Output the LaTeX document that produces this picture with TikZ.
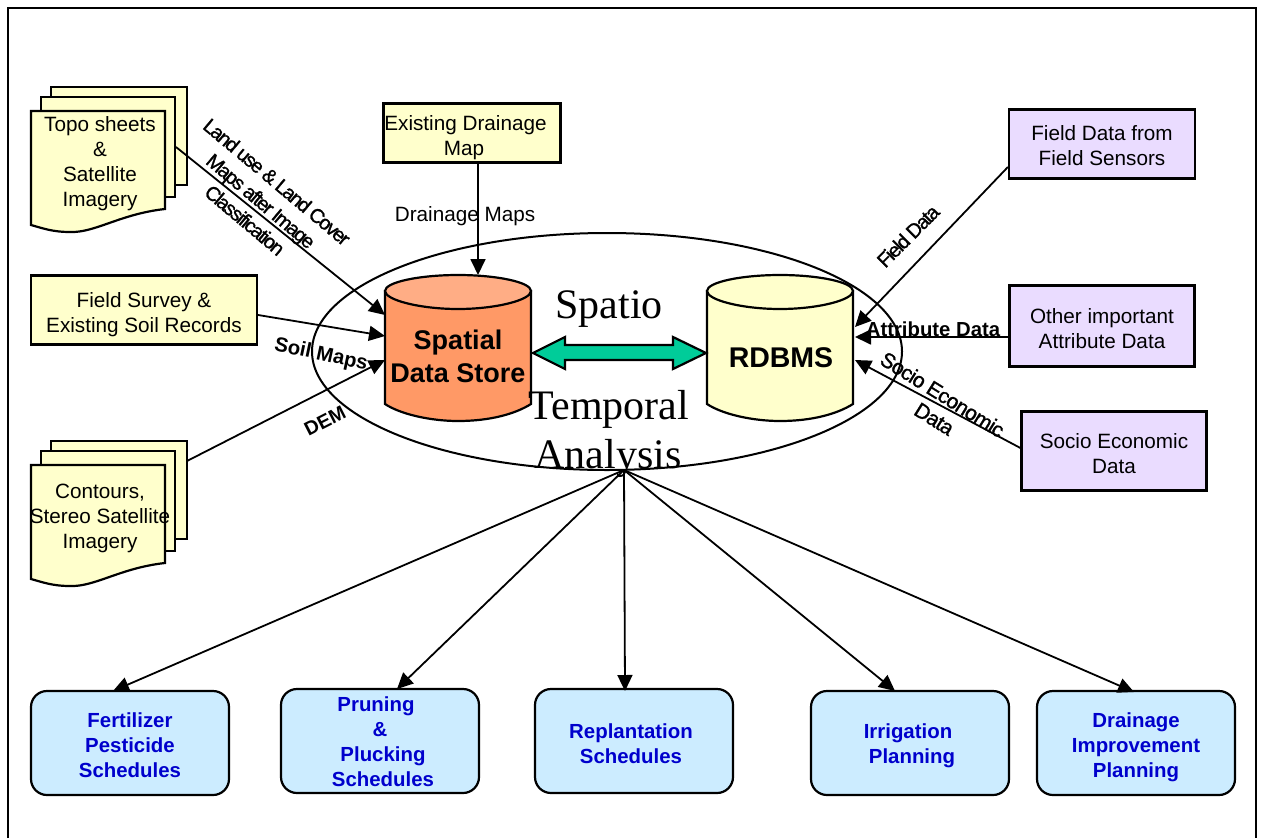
\documentclass[tikz,border=0pt]{standalone}
\usepackage{fontspec}
\setmainfont{Liberation Sans}
\newfontfamily\serifface{Liberation Serif}
\newfontfamily\tightface[LetterSpace=-3.5,FakeBold=1.2]{Liberation Sans}
\newfontfamily\tighterface[LetterSpace=-8,FakeBold=1.2]{Liberation Sans}
\usetikzlibrary{arrows.meta,calc,shapes.geometric}
\definecolor{paleyellow}{HTML}{FFFFCC}
\definecolor{palelilac}{HTML}{EADCFF}
\definecolor{paleblue}{HTML}{CCECFF}
\definecolor{orangeside}{HTML}{FF9966}
\definecolor{orangetop}{HTML}{FFAD85}
\definecolor{seagreen}{HTML}{00CC99}
\definecolor{schedblue}{HTML}{0000CC}
\newcommand\lowr[1]{\rule{0pt}{#1pt}}
\tikzset{
  x=1pt,y=-1pt,
  line width=2pt,
  box/.style={draw=black,line width=2.2pt,align=center,inner sep=0pt,font=\fontsize{20.7}{25}\selectfont},
  yellowbox/.style={box,fill=paleyellow},
  lilacbox/.style={box,fill=palelilac},
  sched/.style={box,fill=paleblue,rounded corners=16pt,text=schedblue,font=\fontsize{20.4}{25}\bfseries\selectfont},
  conn/.style={draw=black,line width=1.8pt,-{Triangle[length=16pt,width=15pt]}},
  tag/.style={inner sep=0pt,align=center,font=\fontsize{20.7}{25}\selectfont},
  btag/.style={tag,font=\fontsize{20.3}{25}\bfseries\selectfont},
  ttag/.style={tag,font=\fontsize{21}{25}\tightface\selectfont},
  tttag/.style={tag,font=\fontsize{20}{25}\tighterface\selectfont},
  sheet/.style={draw=black,line width=2.2pt,fill=paleyellow},
  big/.style={inner sep=0pt,font=\fontsize{42}{49}\serifface\selectfont}
}
\begin{document}
\begin{tikzpicture}
\useasboundingbox (0,0) rectangle (1261,838);
\fill[white] (0,0) rectangle (1261,838);
\draw[line width=1.8pt] (8,838) -- (8,8) -- (1256,8) -- (1256,838);

% ellipse
\node[draw=black,line width=2pt,ellipse,minimum width=590pt,minimum height=237pt,inner sep=0pt] (oval) at (607,351.5) {};
\coordinate (ebot) at (624,470);

% document stack 1
\draw[sheet] (51,87) -- (187,87) -- (187,185) -- (51,185) -- cycle;
\draw[sheet] (41,97) -- (175,97) -- (175,197) -- (41,197) -- cycle;
\draw[sheet] (31,111) -- (165,111) -- (165,209) .. controls (120,214) and (95,233) .. (70,232) .. controls (52,232) and (42,228) .. (31,225) -- cycle;
\node[tag] (topo) at (100,164) {Topo sheets\\\&\\Satellite\\Imagery};
\coordinate (topoout) at (176,147);

% document stack 2
\draw[sheet] (51,441) -- (187,441) -- (187,539) -- (51,539) -- cycle;
\draw[sheet] (41,451) -- (175,451) -- (175,551) -- (41,551) -- cycle;
\draw[sheet] (31,465) -- (165,465) -- (165,563) .. controls (120,568) and (95,587) .. (70,586) .. controls (52,586) and (42,582) .. (31,579) -- cycle;
\node[tag] (contours) at (100,518) {Contours,\\Stereo Satellite\\Imagery};
\coordinate (contoursout) at (187,461);

% rectangular sources
\node[yellowbox,minimum width=226pt,minimum height=69pt] (survey) at (144,310) {\lowr{24}Field Survey \&\\Existing Soil Records};
\node[yellowbox,minimum width=177pt,minimum height=59pt] (drain) at (472,133) {\lowr{24}Existing Drainage\hspace*{13pt}\\Map\hspace*{16pt}};
\node[lilacbox,minimum width=186pt,minimum height=69pt] (sensor) at (1102,144) {\lowr{18}Field Data from\\Field Sensors};
\node[lilacbox,minimum width=185pt,minimum height=81pt] (other) at (1102,326) {\lowr{21}Other important\\Attribute Data};
\node[lilacbox,minimum width=185pt,minimum height=79pt] (socio) at (1114,451) {\lowr{20}Socio Economic\\Data};

% cylinders
\path[fill=orangeside,draw=black,line width=2.2pt] (385,291) -- (385,404) .. controls (400,414) and (430,421) .. (458,421) .. controls (490,421) and (515,414) .. (531,404) -- (531,291) -- cycle;
\path[fill=orangetop,draw=black,line width=2.2pt] (458,275) .. controls (420,275) and (385,282) .. (385,291) .. controls (385,300) and (420,309) .. (458,309) .. controls (496,309) and (531,300) .. (531,291) .. controls (531,282) and (496,275) .. (458,275) -- cycle;
\node[inner sep=0pt,align=center,font=\fontsize{27}{33}\bfseries\selectfont] (store) at (458,356) {Spatial\\Data Store};
\path[fill=paleyellow,draw=black,line width=2.2pt] (707,291) -- (707,404) .. controls (722,414) and (752,421) .. (780,421) .. controls (812,421) and (837,414) .. (853,404) -- (853,291) -- cycle;
\path[fill=paleyellow,draw=black,line width=2.2pt] (780,275) .. controls (742,275) and (707,282) .. (707,291) .. controls (707,300) and (742,309) .. (780,309) .. controls (818,309) and (853,300) .. (853,291) .. controls (853,282) and (818,275) .. (780,275) -- cycle;
\node[inner sep=0pt,font=\fontsize{28.5}{32}\bfseries\selectfont] (rdbms) at (781,358) {RDBMS};
\coordinate (storeA) at (385,315);
\coordinate (storeB) at (385,336);
\coordinate (storeC) at (385,360);
\coordinate (storeT) at (478,275);
\coordinate (rdbA) at (855,327);
\coordinate (rdbB) at (855,337);
\coordinate (rdbC) at (855,360);

% double arrow
\path[fill=seagreen,draw=black,line width=2.2pt] (533,353) -- (565,337) -- (565,345) -- (673,345) -- (673,337) -- (706,353) -- (673,369) -- (673,360) -- (565,360) -- (565,369) -- cycle;

% big labels
\node[big] (spatio) at (609,309) {Spatio};
\node[big] (temporal) at (609,409) {Temporal};
\node[big] (analysis) at (608,458) {Analysis};

% connectors in
\draw[conn] (topoout) -- (storeA);
\draw[conn] (survey.east |- 0,315) -- (storeB);
\draw[conn] (contoursout) -- (storeC);
\draw[conn] (drain.south -| storeT) -- (storeT);
\draw[conn] (sensor.west |- 0,167) -- (rdbA);
\draw[conn] (other.west |- 0,337) -- (rdbB);
\draw[conn] (socio.west |- 0,448) -- (rdbC);

% connector labels
\node[tttag,rotate=-40] (landuse) at (261,201) {Land use \& Land Cover\\Maps after Image\\Classification};
\node[tag] (dm) at (465,216) {Drainage Maps};
\node[btag,rotate=-12] (soil) at (321,355) {Soil Maps};
\node[btag,rotate=27,font=\fontsize{19.5}{25}\bfseries\selectfont] (dem) at (325,421) {DEM};
\node[tttag,rotate=45] (fd) at (908,236) {Field Data};
\node[btag] (attr) at (933,329) {Attribute Data};
\node[ttag,rotate=-32] (sed) at (936,405) {Socio Economic\\\hspace*{12pt}Data};

% schedules
\node[sched,minimum width=198pt,minimum height=104pt] (s1) at (130,743) {\lowr{20}Fertilizer\\Pesticide\\Schedules};
\node[sched,minimum width=198pt,minimum height=104pt] (s2) at (380,741) {\lowr{17}Pruning\hspace*{8pt}\\\&\hspace*{4pt}\\\hspace*{6pt}Plucking\\\hspace*{6pt}Schedules};
\node[sched,minimum width=198pt,minimum height=104pt] (s3) at (634,741) {\lowr{20}Replantation\hspace*{6pt}\\Schedules\hspace*{6pt}};
\node[sched,minimum width=198pt,minimum height=104pt] (s4) at (910,743) {\lowr{20}Irrigation\hspace*{4pt}\\\hspace*{4pt}Planning};
\node[sched,minimum width=198pt,minimum height=104pt] (s5) at (1136,743) {\lowr{24}Drainage\\Improvement\\Planning};
\draw[conn] (ebot) -- (113,691);
\draw[conn] (ebot) -- (397,689);
\draw[conn] (ebot) -- (625,691);
\draw[conn] (ebot) -- (895,691);
\draw[conn] (ebot) -- (1134,692);
\end{tikzpicture}
\end{document}
